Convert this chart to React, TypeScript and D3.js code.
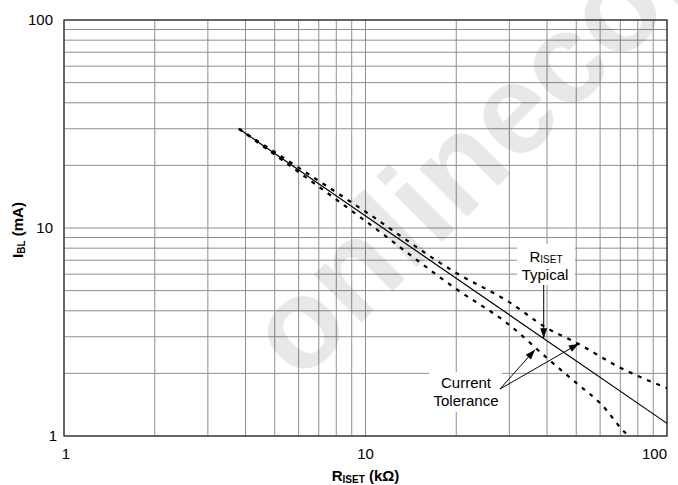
import * as d3 from "d3";

// R_ISET (kOhm) vs I_BL (mA)
const typical: [number, number][] = [
  [3.8, 30],
  [100, 1.15],
];
const upperTol: [number, number][] = [
  [3.8, 30],
  [10, 11.98],
  [20, 6.08],
  [30, 4.4],
  [40, 3.3],
  [50, 2.81],
  [70, 2.13],
  [100, 1.7],
];
const lowerTol: [number, number][] = [
  [3.8, 30],
  [10, 10.8],
  [20, 5.09],
  [30, 3.42],
  [40, 2.37],
  [50, 1.8],
  [60, 1.44],
  [75, 1.0],
  [80, 0.95],
];
const gridValues = [1, 2, 3, 4, 5, 6, 7, 8, 9, 10, 20, 30, 40, 50, 60, 70, 80, 90, 100];
const xTickLabels = [1, 10, 100];
const yTickLabels = [1, 10, 100];

const W = 678;
const H = 485;
const margin = { top: 20, right: 11, bottom: 49, left: 64 };
const FONT = "Arial, 'Liberation Sans', sans-serif";

function arrowHead(x1: number, y1: number, x2: number, y2: number, len = 10, half = 3.5) {
  const a = Math.atan2(y2 - y1, x2 - x1);
  const bx = x2 - len * Math.cos(a);
  const by = y2 - len * Math.sin(a);
  const px = -Math.sin(a) * half;
  const py = Math.cos(a) * half;
  return `M${x2},${y2}L${bx + px},${by + py}L${bx - px},${by - py}Z`;
}

export default function App() {
  const iw = W - margin.left - margin.right;
  const ih = H - margin.top - margin.bottom;
  const x = d3.scaleLog().domain([1, 100]).range([margin.left, margin.left + iw]);
  const y = d3.scaleLog().domain([1, 100]).range([margin.top + ih, margin.top]);

  const line = d3
    .line<[number, number]>()
    .x((d) => x(d[0]))
    .y((d) => y(d[1]))
    .curve(d3.curveMonotoneX);

  // annotation anchors
  const typTipX = x(39);
  const typTipY = y(115 / 39);
  const lowTip = [x(36.5), y(2.6)];
  const upTip = [x(51), y(2.78)];
  const tail = [500, 389];

  return (
    <svg
      width={W}
      height={H}
      style={{ position: "absolute", left: 0, top: 0, background: "#fff" }}
      fontFamily={FONT}
    >
      <rect width={W} height={H} fill="#fff" />
      <defs>
        <clipPath id="plot">
          <rect x={margin.left} y={margin.top} width={iw} height={ih} />
        </clipPath>
      </defs>

      {/* grid */}
      <g stroke="#8f8f8f" strokeWidth={1}>
        {gridValues.map((v) => (
          <line key={"v" + v} x1={x(v)} x2={x(v)} y1={margin.top} y2={margin.top + ih} />
        ))}
        {gridValues.map((v) => (
          <line key={"h" + v} x1={margin.left} x2={margin.left + iw} y1={y(v)} y2={y(v)} />
        ))}
      </g>

      {/* watermark */}
      <text
        x={300}
        y={384}
        transform="rotate(-45 300 384)"
        fontSize={128}
        fontWeight="bold"
        fill="#000"
        fillOpacity={0.09}
      >
        onlinecom
      </text>

      <rect
        x={margin.left}
        y={margin.top}
        width={iw}
        height={ih}
        fill="none"
        stroke="#333"
        strokeWidth={1.3}
      />

      {/* curves */}
      <g clipPath="url(#plot)" fill="none">
        <path d={line(typical) ?? ""} stroke="#000" strokeWidth={1.2} />
        <path d={line(upperTol) ?? ""} stroke="#000" strokeWidth={2.2} strokeDasharray="4,6" />
        <path d={line(lowerTol) ?? ""} stroke="#000" strokeWidth={2.2} strokeDasharray="4,6" />
      </g>

      {/* tick labels */}
      <g fontSize={15} fill="#000">
        {xTickLabels.map((v, i) => (
          <text
            key={"xt" + v}
            x={i === 0 ? x(v) + 2 : x(v)}
            y={459}
            textAnchor={i === xTickLabels.length - 1 ? "end" : "middle"}
          >
            {v}
          </text>
        ))}
        {yTickLabels.map((v) => (
          <text key={"yt" + v} x={v === 1 ? 57 : 53} y={y(v) + 5} textAnchor="end">
            {v}
          </text>
        ))}
      </g>

      {/* axis titles */}
      <text x={x(10)} y={481} textAnchor="middle" fontSize={15} fontWeight="bold">
        R<tspan fontSize={10} dy={2}>ISET</tspan>
        <tspan dy={-2}> (kΩ)</tspan>
      </text>
      <text
        transform="translate(23,230) rotate(-90)"
        textAnchor="middle"
        fontSize={15}
        fontWeight="bold"
      >
        I<tspan fontSize={10} dy={2}>BL</tspan>
        <tspan dy={-2}> (mA)</tspan>
      </text>

      {/* annotation: typical */}
      <rect x={517} y={244} width={58} height={41} fill="#fff" />
      <text x={546} y={262} textAnchor="middle" fontSize={15}>
        R<tspan fontSize={10} dy={1}>ISET</tspan>
      </text>
      <text x={545} y={280} textAnchor="middle" fontSize={15}>
        Typical
      </text>
      <line x1={typTipX} y1={285} x2={typTipX} y2={typTipY} stroke="#000" strokeWidth={1} />
      <path d={arrowHead(typTipX, 285, typTipX, typTipY)} fill="#000" />

      {/* annotation: current tolerance */}
      <rect x={429} y={372} width={73} height={40} fill="#fff" />
      <text x={466} y={388} textAnchor="middle" fontSize={15}>
        Current
      </text>
      <text x={466} y={406} textAnchor="middle" fontSize={15}>
        Tolerance
      </text>
      <line x1={tail[0]} y1={tail[1]} x2={lowTip[0]} y2={lowTip[1]} stroke="#000" strokeWidth={1} />
      <path d={arrowHead(tail[0], tail[1], lowTip[0], lowTip[1])} fill="#000" />
      <line x1={tail[0]} y1={tail[1]} x2={upTip[0]} y2={upTip[1]} stroke="#000" strokeWidth={1} />
      <path d={arrowHead(tail[0], tail[1], upTip[0], upTip[1])} fill="#000" />
    </svg>
  );
}
